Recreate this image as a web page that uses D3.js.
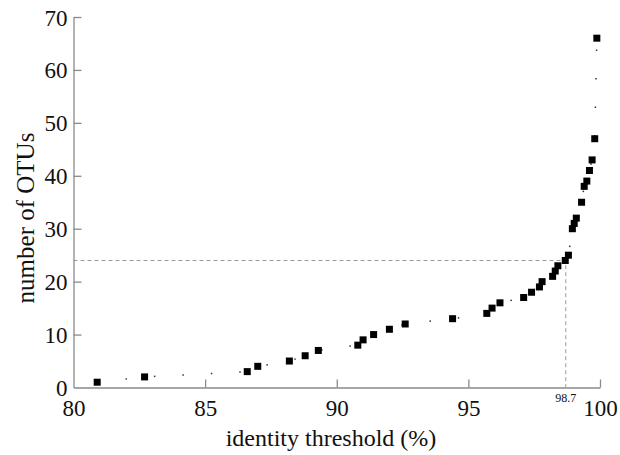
<!DOCTYPE html>
<html>
<head>
<meta charset="utf-8">
<script src="https://cdn.jsdelivr.net/npm/d3@7"></script>
<style>
  body { margin: 0; background: #fff; }
  svg text { font-family: "Liberation Serif", "Tinos", "Times New Roman", "DejaVu Serif", serif; fill: #111; }
</style>
</head>
<body>
<svg id="chart"></svg>
<script>
// identity threshold (%) vs number of OTUs
const threshold = [80.9, 82.7, 86.6, 87.0, 88.2, 88.8, 89.3, 90.8, 91.0, 91.4, 92.0, 92.6,
    94.4, 95.7, 95.9, 96.2, 97.1, 97.4, 97.7, 97.8, 98.2, 98.3, 98.4, 98.68, 98.8,
    98.95, 99.02, 99.1, 99.3, 99.4, 99.5, 99.6, 99.7, 99.8, 99.88];
const otus = [1, 2, 3, 4, 5, 6, 7, 8, 9, 10, 11, 12,
    13, 14, 15, 16, 17, 18, 19, 20, 21, 22, 23, 24, 25,
    30, 31, 32, 35, 38, 39, 41, 43, 47, 66];
const xTicks = [80, 85, 90, 95, 100];
const yTicks = [0, 10, 20, 30, 40, 50, 60, 70];
const cutoff = 98.7;
const cutoffOtus = 24;

const width = 620;
const height = 455;
const margin = { top: 17, right: 20, bottom: 67.5, left: 73.5 };
const serif = "'Liberation Serif', Tinos, 'Times New Roman', 'DejaVu Serif', serif";

const svg = d3.select("#chart")
    .attr("width", width)
    .attr("height", height);

const x = d3.scaleLinear()
    .domain([80, 100])
    .range([margin.left, width - margin.right]);

const y = d3.scaleLinear()
    .domain([0, 70])
    .range([height - margin.bottom, margin.top]);

const data = threshold.map((t, i) => ({ x: t, y: otus[i] }));

// axes: grey, ticks pointing inward
const xAxis = svg.append("g")
    .attr("transform", `translate(0,${y(0)})`)
    .call(d3.axisBottom(x).tickValues(xTicks).tickSizeInner(-8).tickSizeOuter(0).tickPadding(12));

const yAxis = svg.append("g")
    .attr("transform", `translate(${x(80)},0)`)
    .call(d3.axisLeft(y).tickValues(yTicks).tickSizeInner(-8).tickSizeOuter(0).tickPadding(6));

[xAxis, yAxis].forEach(a => {
    a.attr("font-family", serif);
    a.selectAll("path, line").attr("stroke", "#8a8a8a").attr("stroke-width", 1.3);
    a.selectAll("text")
        .style("font-family", serif)
        .attr("font-size", 23)
        .attr("fill", "#111");
});
// corner ticks are covered by the axis lines
xAxis.selectAll(".tick").filter(d => d === 80).select("line").remove();
yAxis.selectAll(".tick").filter(d => d === 0).select("line").remove();
yAxis.selectAll("text").attr("dy", "0.35em");

// dashed guide at 98.7 %
svg.append("path")
    .attr("d", `M${x(80)},${y(cutoffOtus)}H${x(cutoff)}V${y(0)}`)
    .attr("fill", "none")
    .attr("stroke", "#999")
    .attr("stroke-width", 1)
    .attr("stroke-dasharray", "4,3");

svg.append("text")
    .attr("x", x(cutoff))
    .attr("y", y(0) + 14)
    .attr("text-anchor", "middle")
    .attr("font-size", 12)
    .style("font-family", serif)
    .text(cutoff);

// dotted connecting line
const line = d3.line().x(d => x(d.x)).y(d => y(d.y));
svg.append("path")
    .datum(data)
    .attr("d", line)
    .attr("fill", "none")
    .attr("stroke", "#333")
    .attr("stroke-width", 1.5)
    .attr("stroke-dasharray", "1.5,27");

// square markers
const s = 7;
svg.selectAll("rect.pt")
    .data(data)
    .join("rect")
    .attr("class", "pt")
    .attr("x", d => x(d.x) - s / 2)
    .attr("y", d => y(d.y) - s / 2)
    .attr("width", s)
    .attr("height", s)
    .attr("fill", "#000");

// axis titles
svg.append("text")
    .attr("x", 331)
    .attr("y", 446)
    .attr("text-anchor", "middle")
    .attr("font-size", 24)
    .style("font-family", serif)
    .text("identity threshold (%)");

svg.append("text")
    .attr("transform", `translate(34,${218}) rotate(-90)`)
    .attr("text-anchor", "middle")
    .attr("font-size", 25)
    .style("font-family", serif)
    .text("number of OTUs");
</script>
</body>
</html>
